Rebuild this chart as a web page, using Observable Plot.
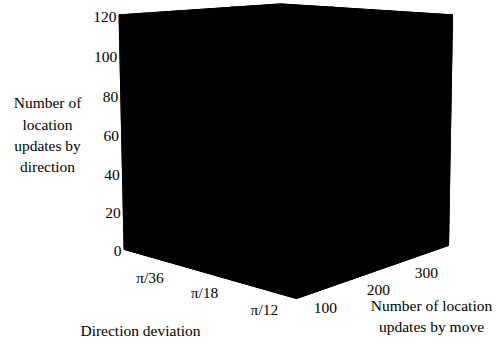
<!DOCTYPE html>
<html>
<head>
<meta charset="utf-8">
<script src="https://cdn.jsdelivr.net/npm/d3@7"></script>
<script src="https://cdn.jsdelivr.net/npm/@observablehq/plot@0.6"></script>
<style>
  html, body { margin: 0; padding: 0; background: #fff; }
</style>
</head>
<body>
<div id="chart"></div>
<script>
// ---- Data ----
const directions = ["π/36", "π/18", "π/12"];          // direction deviation categories
const moves = [100, 200, 300];                         // number of location updates by move
// Number of location updates by direction, one array per direction (values for moves 100, 200, 300)
const valuesPi36 = [120, 120, 120];
const valuesPi18 = [120, 120, 120];
const valuesPi12 = [120, 120, 120];
const zTicks = [0, 20, 40, 60, 80, 100, 120];

const seriesByDirection = [valuesPi36, valuesPi18, valuesPi12];
const bars = [];
directions.forEach((d, i) => moves.forEach((m, j) => bars.push({direction: d, move: m, value: seriesByDirection[i][j]})));

// ---- Perspective camera (layout): vanishing points + scale factors ----
const cam = {
  Va: [-1030, -80], Vm: [1347, -69], Vz: [302, 8600], O: [124, 249],
  sA: -0.04324, sM: 0.04905, sZ: -0.0002277
};
function project(X, Y, Z) {
  const w = 1 + cam.sA * X + cam.sM * Y + cam.sZ * Z;
  const px = (cam.sA * X * cam.Va[0] + cam.sM * Y * cam.Vm[0] + cam.sZ * Z * cam.Vz[0] + cam.O[0]) / w;
  const py = (cam.sA * X * cam.Va[1] + cam.sM * Y * cam.Vm[1] + cam.sZ * Z * cam.Vz[1] + cam.O[1]) / w;
  return [px, py];
}

const aScale = d3.scaleBand().domain(directions).range([0, 3]).padding(0);
const mScale = d3.scaleBand().domain(moves).range([0, 3]).padding(0);

// Build bar faces
const facePts = [];
bars.forEach((b, k) => {
  const a0 = aScale(b.direction), a1 = a0 + aScale.bandwidth();
  const m0 = mScale(b.move), m1 = m0 + mScale.bandwidth();
  const h = b.value;
  const faces = [
    [[a0,m0,0],[a1,m0,0],[a1,m1,0],[a0,m1,0]],
    [[a0,m0,h],[a1,m0,h],[a1,m1,h],[a0,m1,h]],
    [[a0,m0,0],[a1,m0,0],[a1,m0,h],[a0,m0,h]],
    [[a0,m1,0],[a1,m1,0],[a1,m1,h],[a0,m1,h]],
    [[a0,m0,0],[a0,m1,0],[a0,m1,h],[a0,m0,h]],
    [[a1,m0,0],[a1,m1,0],[a1,m1,h],[a1,m0,h]]
  ];
  faces.forEach((f, fi) => f.forEach(p => {
    const [x, y] = project(...p);
    facePts.push({face: k * 6 + fi, x, y});
  }));
});

const serif = "'Liberation Serif', 'DejaVu Serif', serif";
const fs = 15.5;

const chart = Plot.plot({
  width: 498,
  height: 352,
  margin: 0,
  x: {type: "identity", axis: null},
  y: {type: "identity", axis: null},
  marks: [
    Plot.line(facePts, {x: "x", y: "y", z: "face", fill: "#000", stroke: "#000", strokeWidth: 1, curve: "linear-closed"}),
    // z axis tick labels
    Plot.text(zTicks, {
      x: t => project(0, 0, t)[0], y: t => project(0, 0, t)[1],
      text: t => String(t), textAnchor: "end", dx: -3, dy: 2,
      fontFamily: serif, fontSize: fs
    }),
    // direction tick labels
    Plot.text(directions, {
      x: d => project(aScale(d) + aScale.bandwidth() / 2, 0, 0)[0],
      y: d => project(aScale(d) + aScale.bandwidth() / 2, 0, 0)[1],
      text: d => d, dy: 21, fontFamily: serif, fontSize: fs
    }),
    // move tick labels
    Plot.text(moves, {
      x: m => project(3, mScale(m) + mScale.bandwidth() / 2, 0)[0],
      y: m => project(3, mScale(m) + mScale.bandwidth() / 2, 0)[1],
      text: m => String(m), dy: 20, fontFamily: serif, fontSize: fs
    }),
    // axis titles
    Plot.text(["Number of\nlocation\nupdates by\ndirection"], {
      frameAnchor: "left", dx: 47, dy: -43, lineHeight: 1.38,
      textAnchor: "middle", fontFamily: serif, fontSize: fs
    }),
    Plot.text(["Direction deviation"], {
      frameAnchor: "bottom-left", dx: 140, dy: -17,
      textAnchor: "middle", fontFamily: serif, fontSize: fs
    }),
    Plot.text(["Number of location\nupdates by move"], {
      frameAnchor: "bottom-right", dx: -67, dy: -21, lineHeight: 1.3,
      textAnchor: "middle", fontFamily: serif, fontSize: fs
    })
  ]
});
chart.style.fontFamily = serif;
d3.select(chart).selectAll("text, tspan")
  .attr("font-family", serif)
  .style("font-family", serif)
  .style("font-size", fs + "px")
  .attr("fill", "#000");
document.getElementById("chart").appendChild(chart);
</script>
</body>
</html>
